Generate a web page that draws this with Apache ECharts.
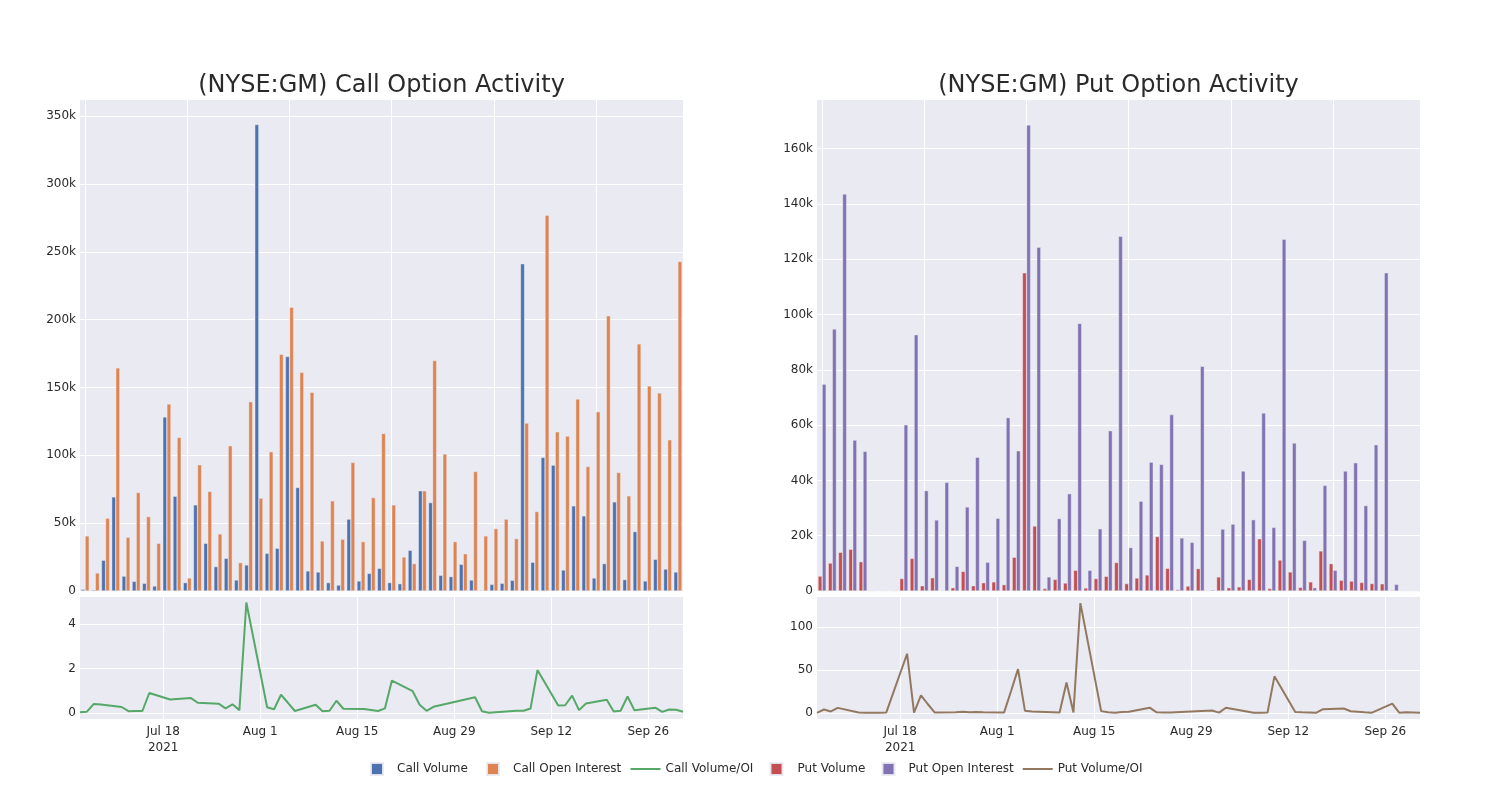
<!DOCTYPE html>
<html>
<head>
<meta charset="utf-8">
<script src="https://cdn.jsdelivr.net/npm/echarts@6/dist/echarts.min.js"></script>
<style>
html,body{margin:0;padding:0;background:#fff;}
#chart{width:1500px;height:800px;}
</style>
</head>
<body>
<div id="chart"></div>
<script>
// ---- data (values in thousands for volume / open interest) ----
const callDates = [
 '2021-07-06','2021-07-07','2021-07-08','2021-07-09','2021-07-12','2021-07-13','2021-07-14','2021-07-15','2021-07-16',
 '2021-07-19','2021-07-21','2021-07-22','2021-07-23','2021-07-26','2021-07-27','2021-07-28','2021-07-29','2021-07-30',
 '2021-08-02','2021-08-03','2021-08-04','2021-08-05','2021-08-06','2021-08-09','2021-08-10','2021-08-11','2021-08-12','2021-08-13',
 '2021-08-16','2021-08-17','2021-08-18','2021-08-19','2021-08-20','2021-08-23','2021-08-24','2021-08-25','2021-08-26',
 '2021-09-01','2021-09-02','2021-09-03','2021-09-07','2021-09-08','2021-09-09','2021-09-10',
 '2021-09-13','2021-09-14','2021-09-15','2021-09-16','2021-09-17','2021-09-20','2021-09-21','2021-09-22','2021-09-23','2021-09-24',
 '2021-09-27','2021-09-28','2021-09-29','2021-09-30','2021-10-01'
];
const callVolume = [1.2,0.8,22.7,69.4,11,7.1,5.7,3.7,128.3,69.9,
 6.2,63.5,35.2,18,24.1,8.1,19.2,343.9,27.8,31.5,
 172.8,76.3,14.8,14,6.2,4.4,53,7.4,13,16.7,
 6.2,5.4,30,73.9,65.2,11.6,10.6,19.7,8.1,0.5,
 4.9,5.7,7.9,241.3,21.2,98.5,92.8,15.5,62.8,55.4,
 9.6,20.2,65.7,8.4,43.8,7.4,23.4,16.2,14];
const callOpenInterest = [40.6,13.3,53.7,164.5,39.6,72.6,54.9,35.2,137.9,113.2,
 9.6,93.1,73.4,42.1,107.1,20.9,139.6,68.5,102.7,174.5,
 209.2,161.2,146.5,36.9,66.5,38.2,94.8,36.4,68.9,116.2,
 63.5,25.1,20.2,73.9,169.9,101,36.4,27.5,88.1,40.6,
 46,53,38.6,123.8,58.6,277,117.4,114.2,141.6,91.8,
 132.2,202.9,87.4,70.2,182.2,151.2,146,111.5,243];
const callRatio = [0.03,0.06,0.41,0.38,0.27,0.08,0.09,0.09,0.9,0.61,
 0.65,0.67,0.46,0.42,0.21,0.39,0.13,4.97,0.26,0.17,
 0.82,0.46,0.09,0.37,0.08,0.1,0.55,0.19,0.18,0.14,
 0.09,0.21,1.46,0.98,0.37,0.1,0.28,0.71,0.08,0.01,
 0.1,0.1,0.2,1.93,0.34,0.35,0.78,0.13,0.43,0.6,
 0.07,0.1,0.74,0.12,0.24,0.05,0.16,0.15,0.06];

const putVolume = [5.4,10.1,14,15.1,10.6,0,0,0,4.5,11.8,
 1.9,4.8,0.2,1.2,7.1,1.9,3,3.3,2.3,12.2,
 115.1,23.5,0.9,4.2,2.9,7.5,1.1,4.5,5.3,10.3,
 2.7,4.7,5.8,19.7,8.2,0.5,1.8,8.1,0.1,5.1,
 1.2,1.5,4.2,18.9,0.9,11.2,6.9,1.3,3.3,14.5,
 9.9,3.9,3.6,3.1,2.7,2.6,0.3,0,0];
const putOpenInterest = [74.8,94.8,143.6,54.6,50.5,0,0,0,60.1,92.7,
 36.3,25.7,39.3,8.9,30.4,48.4,10.4,26.3,62.7,50.7,
 168.6,124.3,5.1,26.2,35.2,96.8,7.5,22.5,58,128.3,
 15.7,32.5,46.6,45.8,63.8,19.2,17.6,81.3,0.4,22.4,
 24.2,43.4,25.8,64.4,23,127.2,53.5,18.3,1.2,38.2,
 7.5,43.4,46.4,30.9,52.9,115.1,2.4,0,0];

const putRatioDates = [
 '2021-07-06','2021-07-07','2021-07-08','2021-07-09','2021-07-12','2021-07-13','2021-07-14','2021-07-15','2021-07-16',
 '2021-07-19','2021-07-20','2021-07-21','2021-07-22','2021-07-23','2021-07-26','2021-07-27','2021-07-28','2021-07-29','2021-07-30',
 '2021-08-02','2021-08-03','2021-08-04','2021-08-05','2021-08-06','2021-08-09','2021-08-10','2021-08-11','2021-08-12','2021-08-13',
 '2021-08-16','2021-08-17','2021-08-18','2021-08-19','2021-08-20','2021-08-23','2021-08-24','2021-08-25','2021-08-26',
 '2021-09-01','2021-09-02','2021-09-03','2021-09-07','2021-09-08','2021-09-09','2021-09-10',
 '2021-09-13','2021-09-14','2021-09-15','2021-09-16','2021-09-17','2021-09-20','2021-09-21','2021-09-22','2021-09-23','2021-09-24',
 '2021-09-27','2021-09-28','2021-09-29','2021-09-30','2021-10-01'
];
const putRatio = [0,3.9,1.6,5.8,0.5,0.2,0.1,0.2,0.5,
 69,0.3,20.5,10,0.3,0.8,1.2,0.6,1,0.7,
 0.5,25.5,51,2.5,1.5,0.8,0.3,35.5,0.5,128,
 2,0.8,0,1,1.2,6,0.6,0.3,0.4,
 2.7,0.2,6,0.1,0.2,0.3,42.6,
 1,0.6,0.4,0,4.3,5,1.9,1.3,0.6,0,
 10.8,0.2,0.6,0.4,0.1];

const dateTicks = ['2021-07-18','2021-08-01','2021-08-15','2021-08-29','2021-09-12','2021-09-26'];
const dateTickLabels = ['Jul 18\n2021','Aug 1','Aug 15','Aug 29','Sep 12','Sep 26'];
const callBarTicks = [0,50,100,150,200,250,300,350];
const putBarTicks = [0,20,40,60,80,100,120,140,160];
const callRatioTicks = [0,2,4];
const putRatioTicks = [0,50,100];
const seriesNames = ['Call Volume','Call Open Interest','Call Volume/OI','Put Volume','Put Open Interest','Put Volume/OI'];
const seriesColors = ['#4C72B0','#DD8452','#55A868','#C44E52','#8172B3','#937860'];

// ---- helpers ----
function ts(s){ const p = s.split('-').map(Number); return Date.UTC(p[0], p[1]-1, p[2]); }
const FONT = 'DejaVu Sans';
const TXT = 'rgb(42,42,42)';
const BG = '#EAEAF2';
const tickTs = dateTicks.map(ts);
function dateLabel(v){ const i = tickTs.indexOf(v); return i >= 0 ? dateTickLabels[i] : ''; }
function kLabel(v){ return v === 0 ? '0' : v + 'k'; }

const gridBox = [
  {left:80, top:100, width:603, height:491},
  {left:80, top:597, width:603, height:122},
  {left:817, top:100, width:603, height:491},
  {left:817, top:597, width:603, height:122}
];

function catAxis(g){
  return {type:'category', gridIndex:g, data:callDates, boundaryGap:true,
    axisLine:{show:false}, axisLabel:{show:false},
    axisTick:{show:false, alignWithLabel:true, interval:9},
    splitLine:{show:true, interval:9, alignWithLabel:true, lineStyle:{color:'#fff', width:1}}};
}
function dateAxis(g){
  return {type:'value', gridIndex:g, min:ts('2021-07-06'), max:ts('2021-10-01'),
    axisLine:{show:false},
    axisTick:{show:false, customValues:tickTs},
    axisLabel:{customValues:tickTs, formatter:dateLabel, fontFamily:FONT, fontSize:12, color:TXT, lineHeight:16, margin:5},
    splitLine:{show:true, lineStyle:{color:'#fff', width:1}}};
}
function valAxis(g, min, max, ticks, fmt){
  return {type:'value', gridIndex:g, min:min, max:max,
    axisLine:{show:false},
    axisTick:{show:false, customValues:ticks},
    axisLabel:{customValues:ticks, formatter:fmt, fontFamily:FONT, fontSize:12, color:TXT, margin:4},
    splitLine:{show:true, lineStyle:{color:'#fff', width:1}}};
}

const barStyle = c => ({color:c, borderColor:'rgba(234,234,242,0.9)', borderWidth:0.5});

// one legend per entry, placed like the reference
const legendLeft = [370, 486, 630.5, 769.5, 881.5, 1022.7];
const legendIsLine = [false, false, true, false, false, true];
const legendPad = [9, 9, 0, 10, 9, 0];
const legends = seriesNames.map((n, i) => ({
  left: legendLeft[i], top: legendIsLine[i] ? 763 : 762, padding: 0,
  itemWidth: legendIsLine[i] ? 30 : 12, itemHeight: 12,
  textStyle: {fontFamily: FONT, fontSize: 12, color: TXT, padding: [0, 0, 0, legendPad[i]]},
  data: [{name: n, icon: legendIsLine[i] ? 'path://M0,0h30v2h-30z' : 'rect'}]
}));

const option = {
  animation:false,
  backgroundColor:'#fff',
  textStyle:{fontFamily:FONT},
  title:[
    {text:'(NYSE:GM) Call Option Activity', left:381.5, top:74, textAlign:'center', padding:0,
     textStyle:{fontFamily:FONT, fontSize:24, fontWeight:'normal', color:TXT}},
    {text:'(NYSE:GM) Put Option Activity', left:1118.5, top:74, textAlign:'center', padding:0,
     textStyle:{fontFamily:FONT, fontSize:24, fontWeight:'normal', color:TXT}}
  ],
  legend: legends,
  grid: gridBox.map(b => Object.assign({show:true, backgroundColor:BG, borderWidth:0}, b)),
  xAxis:[catAxis(0), dateAxis(1), catAxis(2), dateAxis(3)],
  yAxis:[
    valAxis(0, 0, 362, callBarTicks, kLabel),
    valAxis(1, -0.27, 5.22, callRatioTicks, v => String(v)),
    valAxis(2, 0, 177.6, putBarTicks, kLabel),
    valAxis(3, -7.2, 135.2, putRatioTicks, v => String(v))
  ],
  series:[
    {name:seriesNames[0], type:'bar', xAxisIndex:0, yAxisIndex:0, data:callVolume,
     barGap:'0%', barCategoryGap:'20%', itemStyle:barStyle(seriesColors[0])},
    {name:seriesNames[1], type:'bar', xAxisIndex:0, yAxisIndex:0, data:callOpenInterest,
     barGap:'0%', barCategoryGap:'20%', itemStyle:barStyle(seriesColors[1])},
    {name:seriesNames[2], type:'line', xAxisIndex:1, yAxisIndex:1,
     data:callDates.map((d,i) => [ts(d), callRatio[i]]),
     showSymbol:false, symbol:'none', itemStyle:{color:seriesColors[2]}, lineStyle:{color:seriesColors[2], width:2}},
    {name:seriesNames[3], type:'bar', xAxisIndex:2, yAxisIndex:2, data:putVolume,
     barGap:'0%', barCategoryGap:'20%', itemStyle:barStyle(seriesColors[3])},
    {name:seriesNames[4], type:'bar', xAxisIndex:2, yAxisIndex:2, data:putOpenInterest,
     barGap:'0%', barCategoryGap:'20%', itemStyle:barStyle(seriesColors[4])},
    {name:seriesNames[5], type:'line', xAxisIndex:3, yAxisIndex:3,
     data:putRatioDates.map((d,i) => [ts(d), putRatio[i]]),
     showSymbol:false, symbol:'none', itemStyle:{color:seriesColors[5]}, lineStyle:{color:seriesColors[5], width:2}}
  ]
};

const chart = echarts.init(document.getElementById('chart'), null, {renderer:'canvas'});
chart.setOption(option);
</script>
</body>
</html>
